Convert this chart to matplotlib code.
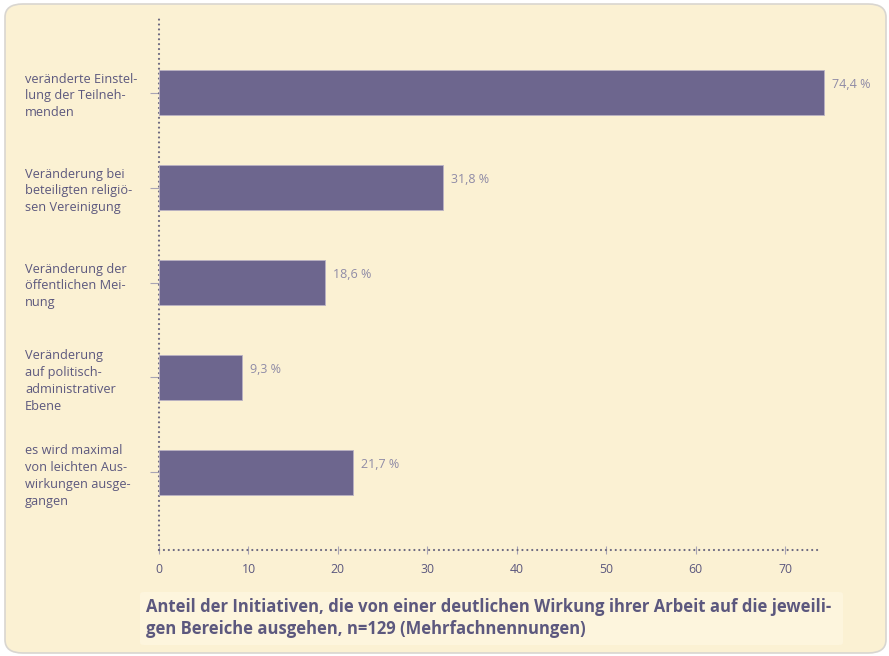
import matplotlib
matplotlib.use("Agg")
import matplotlib.pyplot as plt
from matplotlib.patches import FancyBboxPatch

# shares of initiatives reporting a clear effect, in percent
categories = [
    "veränderte Einstel-\nlung der Teilneh-\nmenden",
    "Veränderung bei\nbeteiligten religiö-\nsen Vereinigung",
    "Veränderung der\nöffentlichen Mei-\nnung",
    "Veränderung\nauf politisch-\nadministrativer\nEbene",
    "es wird maximal\nvon leichten Aus-\nwirkungen ausge-\ngangen",
]
values = [74.4, 31.8, 18.6, 9.3, 21.7]
xticks = [0, 10, 20, 30, 40, 50, 60, 70]
caption = ("Anteil der Initiativen, die von einer deutlichen Wirkung ihrer Arbeit auf die jeweili-\n"
           "gen Bereiche ausgehen, n=129 (Mehrfachnennungen)")

bg = "#FBF1D3"
bar_col = "#6D668E"
text_col = "#5C587E"
value_col = "#8F8BA6"

plt.rcParams["font.family"] = ["Open Sans", "DejaVu Sans"]

W, H = 889, 656
PT = 72 / 100  # points per pixel at dpi 100
fig = plt.figure(figsize=(W / 100, H / 100), dpi=100)
fig.patch.set_facecolor("white")

# rounded panel behind everything
panel = FancyBboxPatch((5 / W, 3 / H), 881 / W, 649 / H,
                       boxstyle="round,pad=0,rounding_size=0.02",
                       transform=fig.transFigure, facecolor=bg,
                       edgecolor="#D9D6D0", linewidth=1.2, zorder=-2)
fig.patches.append(panel)

# caption box under the chart
cap_box = FancyBboxPatch((140 / W, 11 / H), 703 / W, 53 / H,
                         boxstyle="round,pad=0,rounding_size=0.004",
                         transform=fig.transFigure, facecolor="#FDF5DD",
                         edgecolor="none", zorder=-1)
fig.patches.append(cap_box)

ax = fig.add_axes([159 / W, 1 - 550 / H, (820.8 - 159) / W, (550 - 17) / H])
ax.set_facecolor("none")
ax.set_zorder(2)

ypos = list(range(len(values)))
ax.barh(ypos, values, height=0.474, color=bar_col, edgecolor="#B9B2C4",
        linewidth=0.6, clip_on=False, zorder=3)
ax.set_xlim(0, 74)
ax.set_ylim(len(values) - 1 + 0.816, -0.795)

for y, v in zip(ypos, values):
    ax.text(v + 0.9, y - 0.08, f"{v:.1f}".replace(".", ",") + " %",
            color=value_col, fontsize=9, va="center", ha="left")

for side in ("top", "right"):
    ax.spines[side].set_visible(False)
for side in ("left", "bottom"):
    sp = ax.spines[side]
    sp.set_linewidth(1.6)
    sp.set_linestyle((0, (0.01, 2.2)))
    sp.set_capstyle("round")
    sp.set_color("#6B6880")

ax.set_xticks(xticks)
ax.set_xticklabels([str(t) for t in xticks], color=text_col, fontsize=8.8)
ax.tick_params(axis="x", direction="inout", length=8 * PT, width=0.8,
               color="#A8A4B4", pad=9 * PT)

ax.set_yticks(ypos)
ax.set_yticklabels(categories, color=text_col, fontsize=9.2,
                   ha="left", linespacing=1.38)
ax.tick_params(axis="y", direction="out", length=9 * PT, width=0.8,
               color="#A8A4B4", pad=125 * PT)

fig.text(146 / W, 1 - 618 / H, caption, color=text_col, fontsize=12,
         fontweight="bold", va="center", ha="left", linespacing=1.3)

fig.savefig("out.png", dpi=100, facecolor=fig.get_facecolor())
